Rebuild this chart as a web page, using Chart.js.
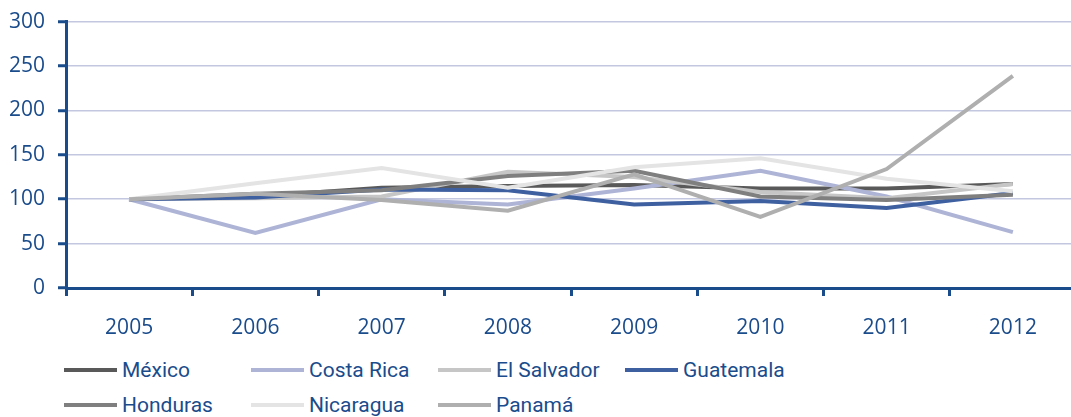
<!DOCTYPE html>
<html>
<head>
<meta charset="utf-8">
<script src="https://cdn.jsdelivr.net/npm/chart.js@4"></script>
<style>
  html, body { margin: 0; padding: 0; background: #fff; overflow: hidden; }
  #wrap { position: relative; width: 1076px; height: 349px; margin-top: -4px; }
  #legend { position: absolute; left: 64px; top: 352px; width: 1000px; }
  .row { display: flex; height: 35px; align-items: center; }
  .item { display: flex; align-items: center; width: 187px; }
  .swatch { width: 53px; height: 4px; margin-right: 5px; }
  .label { font-family: "Liberation Sans Narrow", "Roboto", sans-serif; font-size: 21px; color: #1a4c8c; }
</style>
</head>
<body>
<div id="wrap"><canvas id="mainChart"></canvas></div>
<div id="legend"></div>
<script>
// Index values per country, 2005 = 100
const years = ['2005', '2006', '2007', '2008', '2009', '2010', '2011', '2012'];
const countries = ['México', 'Costa Rica', 'El Salvador', 'Guatemala', 'Honduras', 'Nicaragua', 'Panamá'];

const mexico     = [100, 103, 113, 115, 116, 112, 112, 117];
const costaRica  = [100,  62, 100,  94, 112, 132, 103,  63];
const elSalvador = [100, 101, 103, 131, 125, 108, 101, 117];
const guatemala  = [100, 102, 111, 110,  94,  98,  90, 107];
const honduras   = [100, 106, 110, 126, 132, 103,  99, 105];
const nicaragua  = [100, 118, 135, 113, 136, 146, 123, 109];
const panama     = [100, 106,  99,  87, 128,  80, 134, 239];

const yTicks = [0, 50, 100, 150, 200, 250, 300];

const seriesValues = [mexico, costaRica, elSalvador, guatemala, honduras, nicaragua, panama];
const seriesColors = ['#595959', '#aeb4d6', '#c6c6c6', '#3e5fa0', '#7f7f7f', '#e4e4e4', '#afafaf'];

const axisBlue = '#1a4c8c';
const gridColor = '#c3c7df';

const datasets = countries.map((name, i) => ({
    label: name,
    data: seriesValues[i],
    borderColor: seriesColors[i],
    backgroundColor: seriesColors[i],
    borderWidth: 4,
    pointRadius: 0,
    tension: 0,
    // later series sit on top
    order: countries.length - i
}));

new Chart(document.getElementById('mainChart').getContext('2d'), {
    type: 'line',
    data: { labels: years, datasets: datasets },
    options: {
        responsive: true,
        maintainAspectRatio: false,
        animation: false,
        layout: { padding: { top: 18, right: 0, left: 0, bottom: 0 } },
        plugins: {
            legend: { display: false },
            tooltip: { enabled: false }
        },
        scales: {
            x: {
                offset: true,
                grid: {
                    offset: true,
                    drawOnChartArea: false,
                    tickColor: axisBlue,
                    tickWidth: 3,
                    tickLength: 8
                },
                border: { color: axisBlue, width: 3 },
                ticks: {
                    color: axisBlue,
                    padding: 19,
                    font: { family: 'Open Sans', size: 21 }
                },
                afterFit: (scale) => { scale.height = 57; }
            },
            y: {
                min: 0,
                max: 300,
                afterBuildTicks: (scale) => {
                    scale.ticks = yTicks.map(v => ({ value: v }));
                },
                grid: {
                    color: gridColor,
                    lineWidth: 1.5,
                    tickColor: axisBlue,
                    tickWidth: 3,
                    tickLength: 8
                },
                border: { color: axisBlue, width: 3 },
                ticks: {
                    color: axisBlue,
                    padding: 13,
                    font: { family: 'Open Sans', size: 21 }
                },
                afterFit: (scale) => { scale.width = 66; }
            }
        }
    }
});

// Legend in two rows of four columns
const legend = document.getElementById('legend');
const perRow = 4;
for (let r = 0; r < Math.ceil(countries.length / perRow); r++) {
    const row = document.createElement('div');
    row.className = 'row';
    countries.slice(r * perRow, r * perRow + perRow).forEach((name, j) => {
        const idx = r * perRow + j;
        const item = document.createElement('div');
        item.className = 'item';
        item.innerHTML = '<span class="swatch" style="background:' + seriesColors[idx] + '"></span>' +
            '<span class="label">' + name + '</span>';
        row.appendChild(item);
    });
    legend.appendChild(row);
}
</script>
</body>
</html>
